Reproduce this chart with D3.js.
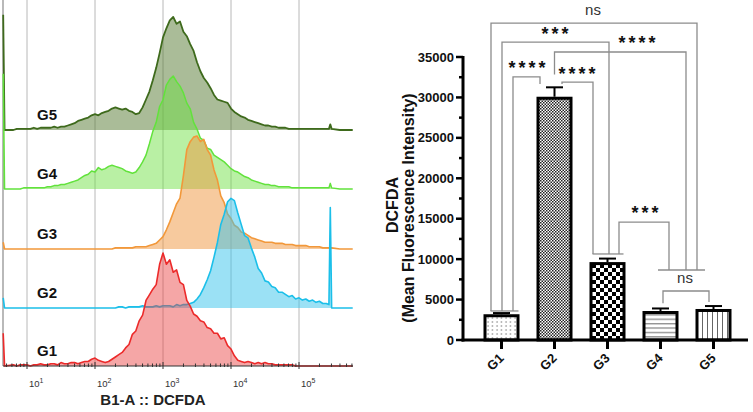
<!DOCTYPE html>
<html><head><meta charset="utf-8">
<script src="https://cdn.jsdelivr.net/npm/d3@7"></script>
<style>body{margin:0;background:#fff}svg{display:block;font-family:Arial,"Liberation Sans",sans-serif}</style>
</head><body><svg id="c" width="753" height="412"></svg>
<script>
// ---------- DATA ----------
const groups = ["G1","G2","G3","G4","G5"];
// histogram bin positions (log10 of B1-A :: DCFDA)
const binLog = [0.65,0.67,
0.80,0.85,0.90,0.95,1.00,1.05,1.10,1.15,1.20,1.25,
1.30,1.35,1.40,1.45,1.50,1.55,1.60,1.65,1.70,1.75,
1.80,1.85,1.90,1.95,2.00,2.05,2.10,2.15,2.20,2.25,
2.30,2.35,2.40,2.45,2.50,2.55,2.60,2.65,2.70,2.75,
2.80,2.85,2.90,2.95,3.00,3.05,3.10,3.15,3.20,3.25,
3.30,3.35,3.40,3.45,3.50,3.55,3.60,3.65,3.70,3.75,
3.80,3.85,3.90,3.95,4.00,4.05,4.10,4.15,4.20,4.25,
4.30,4.35,4.40,4.45,4.50,4.55,4.60,4.65,4.70,4.75,
4.80,4.85,4.90,4.95,5.00,5.05,5.10,5.15,5.20,5.25,
5.30,5.35,5.40,
5.44,5.46,5.48,5.60,5.79];
// normalized event counts (% of mode)
const histG1 = [29,0,
1,0,1,1,1,0,1,1,2,1,
1,2,2,1,3,2,2,3,3,2,
3,4,4,6,7,5,4,3,4,6,
8,10,12,16,19,28,31,40,45,58,
63,68,72,90,100,90,94,83,85,74,
72,58,53,46,44,40,39,34,33,29,
29,24,25,18,15,9,5,4,3,4,
3,2,3,2,3,2,2,1,1,1,
1,1,1,0,0,0,0,0,0,0,
0,0,0,
0,0,0,0,0];
const histG2 = [9,0,
0,0,0,0,0,0,0,0,0,0,
0,0,0,0,0,0,0,0,0,0,
0,0,0,0,0,0,0,0,0,0,
0,1,1,0,1,1,1,1,2,1,
1,1,2,1,2,2,2,1,3,2,
3,3,4,5,8,12,18,25,33,45,
58,74,83,94,97,95,84,74,64,62,
53,45,35,31,24,23,19,18,14,14,
12,10,11,8,9,7,8,6,7,5,
6,4,4,
3,89,0,0,0];
const histG3 = [6,0,
0,0,0,0,0,0,0,0,0,0,
0,0,0,0,0,0,0,0,0,0,
0,0,0,0,0,0,0,0,0,0,
1,1,1,1,1,1,2,2,2,2,
3,4,5,8,11,17,24,32,40,45,
65,88,95,99,100,95,97,88,83,70,
61,47,41,31,27,21,19,15,14,12,
10,9,8,7,6,6,6,5,5,5,
4,4,4,3,3,3,3,2,2,2,
2,1,1,
1,1,1,0,0];
const histG4 = [102,0,
0,0,0,1,1,1,1,1,1,1,
2,2,3,3,4,4,5,6,7,8,
10,12,13,16,15,19,17,18,20,21,
20,19,18,16,15,14,15,19,24,30,
40,51,59,73,79,92,97,100,95,91,
85,76,71,59,53,45,43,36,35,30,
28,26,24,21,18,16,15,13,11,10,
8,7,6,5,4,4,3,3,2,2,
2,2,1,1,1,1,1,1,1,1,
1,1,1,
1,5,1,0,0];
const histG5 = [102,0,
0,1,1,1,1,1,2,1,2,2,
2,2,3,2,3,3,4,5,6,8,
9,10,11,13,14,13,15,16,17,19,
20,19,18,19,17,16,14,15,20,27,
34,44,55,68,82,90,97,100,94,96,
87,83,76,70,60,52,46,42,37,31,
27,26,25,24,19,16,14,12,11,9,
8,7,6,5,4,4,3,3,2,2,
2,1,1,1,1,1,1,1,1,1,
1,1,1,
1,5,1,0,0];
const decadeTicks = [1,2,3,4,5];
const axisTitleLeft = "B1-A :: DCFDA";

// bar chart
const meanMFI = [3000, 29900, 9450, 3400, 3650];
const semMFI  = [330, 1350, 620, 500, 550];
const yTickValues = [0,5000,10000,15000,20000,25000,30000,35000];
const yTitle1 = "DCFDA";
const yTitle2 = "(Mean Fluorescence Intensity)";

// ---------- LEFT PANEL ----------
const svg = d3.select("#c");
const xL = d3.scaleLinear().domain([0.647, 5.794]).range([3, 353]);
const hL = d3.scaleLinear().domain([0, 100]).range([0, 113]);
const baseY = {G1:366, G2:308, G3:249, G4:189, G5:130};
const styles = {
  G5:{stroke:"#3e6a1c", fill:"rgba(86,122,50,0.5)", w:1.8},
  G4:{stroke:"#62e23c", fill:"rgba(108,224,64,0.48)", w:1.5},
  G3:{stroke:"#f2983a", fill:"rgba(240,150,62,0.5)", w:1.6},
  G2:{stroke:"#1bbfe9", fill:"rgba(56,196,236,0.5)", w:1.6},
  G1:{stroke:"#ec2a2a", fill:"rgba(232,58,58,0.45)", w:1.6}
};
const hist = {G1:histG1, G2:histG2, G3:histG3, G4:histG4, G5:histG5};

const gL = svg.append("g");
gL.selectAll("line.grid").data(decadeTicks).join("line")
  .attr("x1", d=>xL(d)).attr("x2", d=>xL(d)).attr("y1", 0).attr("y2", 366)
  .attr("stroke", "#c4c4c4").attr("stroke-width", 1.2);
gL.append("line").attr("x1",3).attr("x2",3).attr("y1",0).attr("y2",366).attr("stroke","#8a8a8a").attr("stroke-width",1.2);

["G5","G4","G3","G2","G1"].forEach(k=>{
  const b = baseY[k], s = styles[k];
  const pts = binLog.map((l,i)=>({l, c:hist[k][i]}));
  const area = d3.area().x(d=>xL(d.l)).y0(b).y1(d=>b - hL(d.c));
  const line = d3.line().x(d=>xL(d.l)).y(d=>b - hL(d.c));
  gL.append("path").datum(pts).attr("d", area).attr("fill", s.fill);
  gL.append("path").datum(pts).attr("d", line).attr("fill","none")
    .attr("stroke", s.stroke).attr("stroke-width", s.w).attr("stroke-linejoin","round");
  gL.append("text").attr("x", 37).attr("y", b - 10).text(k)
    .attr("font-size", 15).attr("font-weight","bold").attr("fill","#111");
});

gL.append("line").attr("x1",3).attr("x2",353).attr("y1",366).attr("y2",366).attr("stroke","#333").attr("stroke-width",1.2);
const minor = [];
for (let d=0; d<=5; d++) for (let m=1; m<=9; m++){ const v = d + Math.log10(m); if (v>0.65 && v<5.79) minor.push({v, major:m===1}); }
gL.selectAll("line.mt").data(minor).join("line")
  .attr("x1", d=>xL(d.v)).attr("x2", d=>xL(d.v))
  .attr("y1", d=>d.major?362:363.5).attr("y2", d=>d.major?369:367)
  .attr("stroke","#333").attr("stroke-width",1);
const tl = gL.selectAll("text.tl").data(decadeTicks).join("text")
  .attr("x", d=>xL(d)+2).attr("y", 387).attr("font-size", 9.5).attr("fill","#333");
tl.append("tspan").text("10");
tl.append("tspan").attr("dy",-4).attr("font-size",7).text(d=>d);
gL.append("text").attr("x",153).attr("y",405).attr("text-anchor","middle")
  .attr("font-size",15).attr("font-weight","bold").attr("fill","#222").text(axisTitleLeft);

// ---------- RIGHT PANEL ----------
const defs = svg.append("defs");
let p = defs.append("pattern").attr("id","pG1").attr("patternUnits","userSpaceOnUse").attr("width",4.5).attr("height",4);
p.append("rect").attr("width",4.5).attr("height",4).attr("fill","#fff");
p.append("circle").attr("cx",2).attr("cy",2).attr("r",0.75).attr("fill","#777");
p = defs.append("pattern").attr("id","pG2").attr("patternUnits","userSpaceOnUse").attr("width",3).attr("height",3);
p.append("rect").attr("width",3).attr("height",3).attr("fill","#fff");
p.append("rect").attr("width",1.5).attr("height",1.5).attr("fill","#222");
p.append("rect").attr("x",1.5).attr("y",1.5).attr("width",1.5).attr("height",1.5).attr("fill","#222");
p = defs.append("pattern").attr("id","pG3").attr("patternUnits","userSpaceOnUse").attr("width",8).attr("height",8);
p.append("rect").attr("width",8).attr("height",8).attr("fill","#fff");
p.append("rect").attr("width",4).attr("height",4).attr("fill","#000");
p.append("rect").attr("x",4).attr("y",4).attr("width",4).attr("height",4).attr("fill","#000");
p = defs.append("pattern").attr("id","pG4").attr("patternUnits","userSpaceOnUse").attr("width",4).attr("height",4.4);
p.append("rect").attr("width",4).attr("height",4.4).attr("fill","#fff");
p.append("rect").attr("y",2).attr("width",4).attr("height",1).attr("fill","#666");
p = defs.append("pattern").attr("id","pG5").attr("patternUnits","userSpaceOnUse").attr("width",5).attr("height",4);
p.append("rect").attr("width",5).attr("height",4).attr("fill","#fff");
p.append("rect").attr("x",2).attr("width",1).attr("height",4).attr("fill","#666");

const yR = d3.scaleLinear().domain([0,35000]).range([340,57]);
const xR = d3.scalePoint().domain(groups).range([501.5, 713.5]);
const barW = 33;
const gR = svg.append("g");

const gc = "#8c8c8c";
function path(pts){ gR.append("path").attr("d", d3.line()(pts)).attr("fill","none").attr("stroke",gc).attr("stroke-width",1.3); }
const X = (g,o)=>xR(g)+o;
path([[X("G1",-11), yR(3590)],[X("G1",17), yR(3590)]]);
path([[X("G3",-15), yR(10640)],[X("G3",16), yR(10640)]]);
path([[X("G4",-2.5), yR(8660)],[X("G5",-8.5), yR(8660)]]);
path([[X("G1",-10.5), yR(3590)],[X("G1",-10.5), yR(39200)],[X("G5",-16.5), yR(39200)],[X("G5",-16.5), yR(8660)]]);
path([[X("G1",0.5), yR(3590)],[X("G1",0.5), yR(36850)],[X("G3",1.5), yR(36850)],[X("G3",1.5), yR(10640)]]);
path([[X("G2",0), yR(32850)],[X("G2",0), yR(35620)],[X("G5",-27.5), yR(35620)],[X("G5",-27.5), yR(8660)]]);
path([[X("G1",11.5), yR(3590)],[X("G1",11.5), yR(32530)],[X("G2",-14.5), yR(32530)],[X("G2",-14.5), yR(31650)]]);
path([[X("G2",7.5), yR(31650)],[X("G2",7.5), yR(31900)],[X("G3",-14.5), yR(31900)],[X("G3",-14.5), yR(10640)]]);
path([[X("G3",11.5), yR(10640)],[X("G3",11.5), yR(14590)],[X("G4",8.5), yR(14590)],[X("G4",8.5), yR(8660)]]);
path([[X("G4",2.5), yR(4550)],[X("G4",2.5), yR(6060)],[X("G5",-4.5), yR(6060)],[X("G5",-4.5), yR(4700)]]);

function stars(txt, x, yc){
  gR.append("text").attr("x", x+1.5).attr("y", yc+10).attr("text-anchor","middle")
    .attr("font-size",18).attr("font-weight","bold").attr("letter-spacing",3).attr("fill","#111").text(txt);
}
function ns(x, base){
  gR.append("text").attr("x", x).attr("y", base).attr("text-anchor","middle")
    .attr("font-size",15).attr("fill","#333").text("ns");
}
ns(593, 15);
stars("***", 555, 30);
stars("****", 637, 39);
stars("****", 527, 64);
stars("****", 577, 70);
stars("***", 645, 209);
ns(685, 283);

gR.selectAll("rect.bar").data(groups).join("rect")
  .attr("x", g=>xR(g)-barW/2).attr("width", barW)
  .attr("y", (g,i)=>yR(meanMFI[i])).attr("height", (g,i)=>yR(0)-yR(meanMFI[i]))
  .attr("fill", g=>`url(#p${g})`).attr("stroke","#000").attr("stroke-width",3);
groups.forEach((g,i)=>{
  const top = yR(meanMFI[i]+semMFI[i]);
  gR.append("line").attr("x1",xR(g)).attr("x2",xR(g)).attr("y1",yR(meanMFI[i])-1.5).attr("y2",top).attr("stroke","#000").attr("stroke-width",2);
  gR.append("line").attr("x1",xR(g)-8.5).attr("x2",xR(g)+8.5).attr("y1",top).attr("y2",top).attr("stroke","#000").attr("stroke-width",2);
});

const yMinor = d3.range(0, 35001, 2500);
gR.selectAll("line.yt").data(yMinor).join("line")
  .attr("x1", d=> d%5000===0 ? 456 : 459).attr("x2",463)
  .attr("y1", d=>yR(d)).attr("y2", d=>yR(d)).attr("stroke","#000").attr("stroke-width",2.5);
gR.append("line").attr("x1",463).attr("x2",463).attr("y1",yR(35000)-1).attr("y2",341.5).attr("stroke","#000").attr("stroke-width",3);
gR.selectAll("text.yl").data(yTickValues).join("text")
  .attr("x",454).attr("y", d=>yR(d)+4.5).attr("text-anchor","end")
  .attr("font-size",13).attr("font-weight","bold").attr("fill","#111").text(d=>d);
gR.append("line").attr("x1",461.5).attr("x2",748).attr("y1",340).attr("y2",340).attr("stroke","#000").attr("stroke-width",3);
gR.selectAll("line.xt").data(groups).join("line")
  .attr("x1", g=>xR(g)).attr("x2", g=>xR(g)).attr("y1",340).attr("y2",349).attr("stroke","#000").attr("stroke-width",3);
gR.selectAll("text.xl").data(groups).join("text")
  .attr("transform", g=>`translate(${xR(g)+3},359) rotate(-45)`).attr("text-anchor","end")
  .attr("font-size",13).attr("font-weight","bold").attr("fill","#111").text(g=>g);
const tg = gR.append("g");
tg.append("text").attr("transform","translate(392,205) rotate(-90)").attr("text-anchor","middle")
  .attr("dominant-baseline","central").attr("font-size",16).attr("font-weight","bold").attr("fill","#111").text(yTitle1);
tg.append("text").attr("transform","translate(408.5,208) rotate(-90)").attr("text-anchor","middle")
  .attr("dominant-baseline","central").attr("font-size",16).attr("font-weight","bold").attr("fill","#111").text(yTitle2);
</script></body></html>
